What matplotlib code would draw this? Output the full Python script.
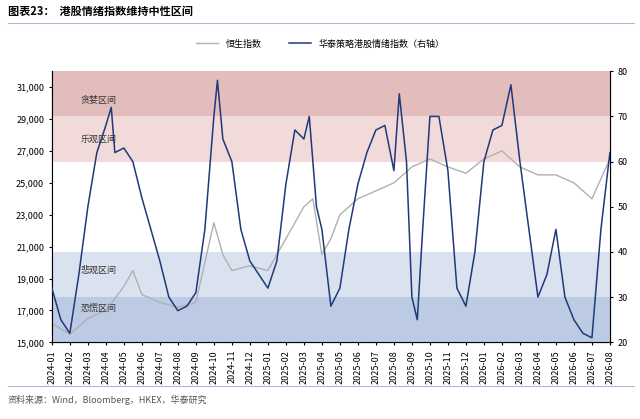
import numpy as np
import pandas as pd
import matplotlib.pyplot as plt

plt.rcParams['font.family'] = ['Noto Sans CJK SC', 'DejaVu Sans']

# 月份偏移(相对2024-01)
hsi_t = [0, 1, 2, 3, 4, 4.5, 5, 6, 7, 8, 8.7, 9, 9.5, 10, 11, 12, 13, 14, 14.5, 15, 15.5,
         16, 17, 18, 19, 20, 21, 22, 23, 24, 25, 26, 27, 28, 29, 30, 31]
hsi_v = [16200, 15500, 16500, 17000, 18500, 19500, 18000, 17500, 17200, 17500, 21000, 22500,
         20500, 19500, 19800, 19500, 21500, 23500, 24000, 20500, 21500, 23000, 24000, 24500,
         25000, 26000, 26500, 26000, 25600, 26500, 27000, 26000, 25500, 25500, 25000, 24000, 26500]

sent_t = [0, 0.5, 1, 1.5, 2, 2.5, 3, 3.3, 3.5, 4, 4.5, 5, 5.5, 6, 6.5, 7, 7.5, 8, 8.5, 9, 9.2,
          9.5, 10, 10.5, 11, 11.5, 12, 12.5, 13, 13.5, 14, 14.3, 14.7, 15, 15.5, 16, 16.5, 17,
          17.5, 18, 18.5, 19, 19.3, 19.7, 20, 20.3, 20.6, 21, 21.5, 22, 22.5, 23, 23.5, 24,
          24.5, 25, 25.5, 26, 26.5, 27, 27.5, 28, 28.5, 29, 29.5, 30, 30.5, 31]
sent_v = [32, 25, 22, 35, 50, 62, 68, 72, 62, 63, 60, 52, 45, 38, 30, 27, 28, 31, 45, 70, 78,
          65, 60, 45, 38, 35, 32, 38, 55, 67, 65, 70, 50, 45, 28, 32, 45, 55, 62, 67, 68, 58,
          75, 60, 30, 25, 45, 70, 70, 58, 32, 28, 40, 60, 67, 68, 77, 60, 45, 30, 35, 45, 30,
          25, 22, 21, 45, 62]

months = pd.date_range("2024-01-01", "2026-08-01", freq="MS")
tick_labels = [d.strftime("%Y-%m") for d in months]

bands = [(70, 80, "#e3bcbc", "贪婪区间", 73.6), (60, 70, "#f2dada", "乐观区间", 65),
         (40, 60, "white", None, 0), (30, 40, "#dbe2ef", "悲观区间", 36),
         (20, 30, "#bccbe3", "恐慌区间", 27.6)]

fig = plt.figure(figsize=(6.4, 4.19), dpi=100)
fig.text(0.012, 0.972, "图表23：  港股情绪指数维持中性区间", fontsize=8, fontweight="bold", va="center")
fig.add_artist(plt.Line2D([0.012, 0.99], [0.945, 0.945], color="#a9bcd6", lw=0.8))
fig.add_artist(plt.Line2D([0.012, 0.99], [0.078, 0.078], color="#a9bcd6", lw=0.8))
fig.text(0.012, 0.045, "资料来源：Wind，Bloomberg，HKEX，华泰研究", fontsize=6.5, color="#555555", va="center")

ax = fig.add_axes([0.081, 0.183, 0.872, 0.647])
ax2 = ax.twinx()
for lo, hi, c, lab, ly in bands:
    ax2.axhspan(lo, hi, color=c, lw=0, zorder=0)
    if lab:
        ax2.text(1.6, ly, lab, fontsize=6.5, style="italic", color="#333333", va="center")

ax2.plot(sent_t, sent_v, color="#1f3a7a", lw=1.1, zorder=3)
hsi_y = (np.array(hsi_v) - 15000) / (32000 - 15000) * 60 + 20
ax2.plot(hsi_t, hsi_y, color="#b0b0b0", lw=1, zorder=2)

ax.set_ylim(15000, 32000)
ax.set_yticks(range(15000, 32000, 2000))
ax.set_yticklabels([f"{v:,}" for v in range(15000, 32000, 2000)], fontsize=6.5)
ax2.set_ylim(20, 80)
ax2.set_yticks(range(20, 81, 10))
ax2.tick_params(labelsize=6.5, length=2)
ax.tick_params(length=2)
ax.set_xlim(0, 31)
ax.set_xticks(range(len(months)))
ax.set_xticklabels(tick_labels, rotation=90, fontsize=6.5)
for a in (ax, ax2):
    a.spines["top"].set_visible(False)

fig.legend([plt.Line2D([], [], color="#b0b0b0", lw=1), plt.Line2D([], [], color="#1f3a7a", lw=1.1)],
           ["恒生指数", "华泰策略港股情绪指数（右轴）"], loc="center", bbox_to_anchor=(0.5, 0.895),
           ncol=2, frameon=False, fontsize=6.5, handlelength=2.5, columnspacing=3)
fig.savefig("out.png", dpi=100)
